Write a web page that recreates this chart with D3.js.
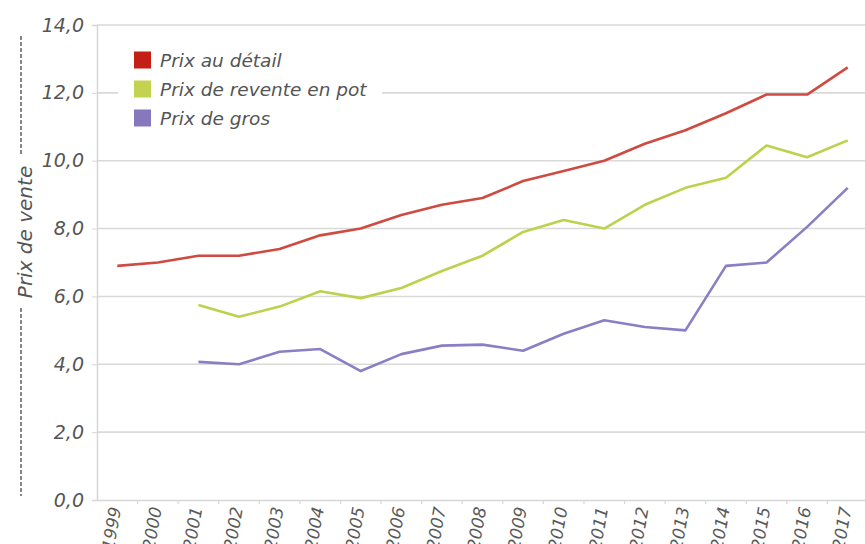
<!DOCTYPE html>
<html><head><meta charset="utf-8">
<script src="https://cdn.jsdelivr.net/npm/d3@7"></script>
<style>
html,body{margin:0;padding:0;background:#fff;}
svg{display:block;font-family:"DejaVu Sans",sans-serif;font-style:italic;}
</style></head>
<body><svg id="c" width="865" height="544"></svg>
<script>
(function(){
const years = ["1999","2000","2001","2002","2003","2004","2005","2006","2007","2008","2009","2010","2011","2012","2013","2014","2015","2016","2017"];
const detail = [6.9,7.0,7.2,7.2,7.4,7.8,8.0,8.4,8.7,8.9,9.4,9.7,10.0,10.5,10.9,11.4,11.95,11.95,12.75];
const revente = [null,null,5.75,5.4,5.7,6.15,5.95,6.25,6.75,7.2,7.9,8.25,8.0,8.7,9.2,9.5,10.45,10.1,10.6];
const gros = [null,null,4.07,4.0,4.37,4.45,3.8,4.3,4.55,4.58,4.4,4.9,5.3,5.1,5.0,6.9,7.0,8.05,9.2];
const yTicks = [0,2,4,6,8,10,12,14];
const seriesNames = ["Prix au détail","Prix de revente en pot","Prix de gros"];
const lineColors = ["#cf4a40","#bcd24c","#8b7ec4"];
const swatchColors = ["#c41f16","#c3d350","#8678bd"];
const FONT = "'DejaVu Sans',sans-serif";

const svg = d3.select("#c");
const mL = 97, mR = 868, mT = 25, mB = 500;
const x = d3.scaleBand().domain(years).range([mL, mR]);
const y = d3.scaleLinear().domain([0,14]).range([mB, mT]);

svg.append("g").selectAll("line").data(yTicks.filter(d=>d>0)).join("line")
  .attr("x1", mL).attr("x2", 865).attr("y1", d=>y(d)).attr("y2", d=>y(d))
  .attr("stroke", "#d9d9d9").attr("stroke-width", 1.6);

const ya = svg.append("g").attr("transform", `translate(${mL},0)`)
  .call(d3.axisLeft(y).tickValues(yTicks).tickSize(5).tickPadding(8)
    .tickFormat(d => d3.format(".1f")(d).replace(".", ",")));
ya.select(".domain").attr("stroke", "#d6d6d6").attr("stroke-width", 1.5);
ya.selectAll(".tick line").attr("stroke", "#d6d6d6");
ya.selectAll("text").attr("font-size", 19).attr("fill", "#555").attr("font-family", FONT).attr("font-style","italic");

const xa = svg.append("g").attr("transform", `translate(0,${mB})`)
  .call(d3.axisBottom(x).tickSize(0).tickFormat(d=>d));
xa.select(".domain").attr("stroke", "#d6d6d6").attr("stroke-width", 1.5);
xa.selectAll(".tick text")
  .attr("font-size", 17).attr("fill", "#5a5a5a").attr("font-family", FONT).attr("font-style","italic")
  .attr("text-anchor", "end").attr("dy", null).attr("y", 0)
  .attr("transform", "translate(-2,7) rotate(-80)").attr("dominant-baseline", "central");
svg.append("g").selectAll("line").data(years.slice(1)).join("line")
  .attr("x1", d=>x(d)).attr("x2", d=>x(d)).attr("y1", mB).attr("y2", mB+4)
  .attr("stroke", "#d6d6d6").attr("stroke-width", 1.2);

const all = [detail, revente, gros];
const line = d3.line().defined(d=>d.v!=null).x(d=>x(d.k)+x.bandwidth()/2).y(d=>y(d.v));
all.forEach((s,i)=>{
  svg.append("path").datum(years.map((k,j)=>({k, v:s[j]})))
    .attr("d", line).attr("fill","none").attr("stroke", lineColors[i])
    .attr("stroke-width", 2.6).attr("stroke-linejoin","round");
});

const lg = svg.append("g");
lg.append("rect").attr("x", 118).attr("y", 40).attr("width", 264).attr("height", 95).attr("fill", "#fff");
seriesNames.forEach((n,i)=>{
  const cy = 60 + i*29;
  lg.append("rect").attr("x", 134).attr("y", cy-8.5).attr("width", 17).attr("height", 17).attr("fill", swatchColors[i]);
  lg.append("text").attr("x", 160).attr("y", cy).attr("dominant-baseline","central")
    .attr("font-size", 18.5).attr("fill", "#555").attr("font-family", FONT).text(n);
});

svg.append("text").attr("transform", "translate(25,232) rotate(-90)")
  .attr("text-anchor","middle").attr("dominant-baseline","central")
  .attr("font-size", 20).attr("fill","#555").attr("font-family", FONT).text("Prix de vente");
[[36,156],[308,496]].forEach(([a,b])=>{
  svg.append("line").attr("x1",21).attr("x2",21).attr("y1",a).attr("y2",b)
    .attr("stroke","#555").attr("stroke-width",1.4).attr("stroke-dasharray","4,2");
});
})();
</script></body></html>
